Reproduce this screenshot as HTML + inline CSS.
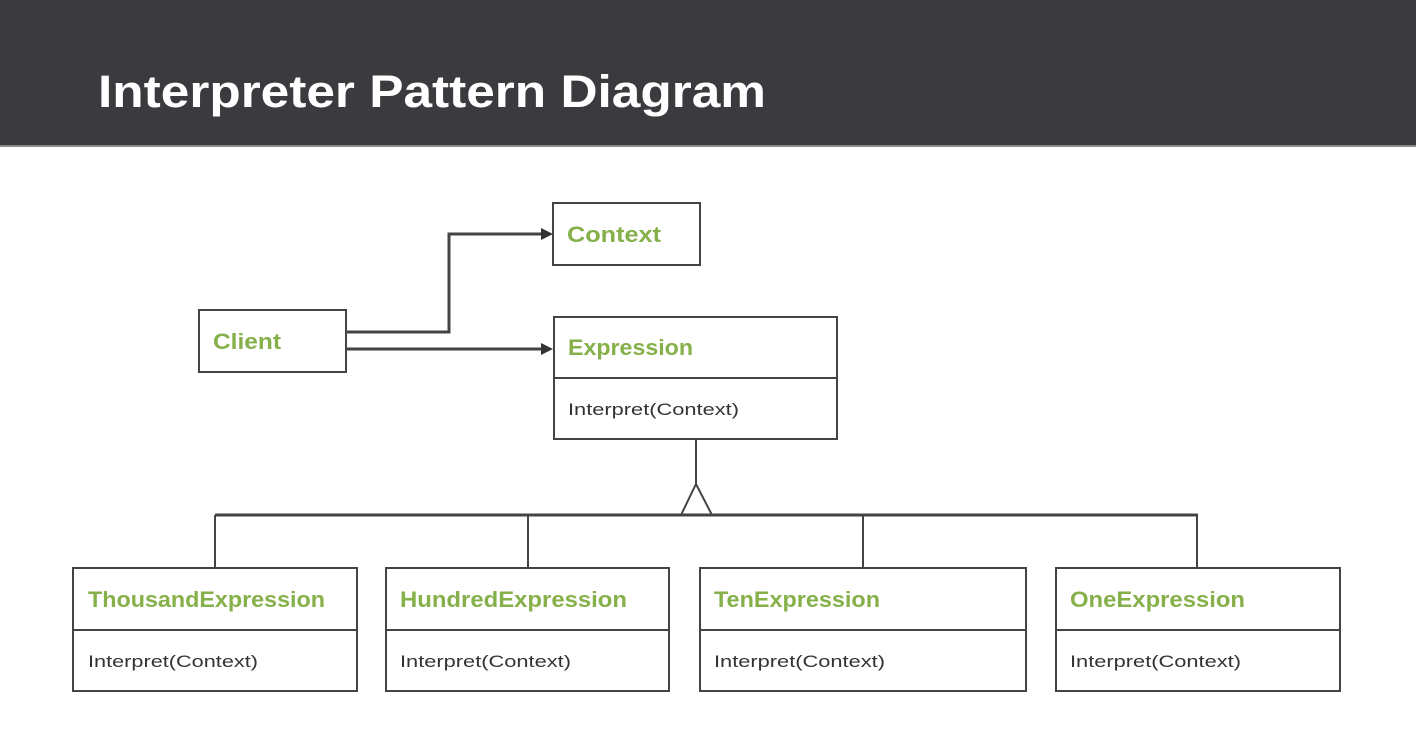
<!DOCTYPE html>
<html><head><meta charset="utf-8"><style>
html,body{margin:0;padding:0;background:#fff;width:1416px;height:744px;overflow:hidden}
</style></head><body>
<svg width="1416" height="744" xmlns="http://www.w3.org/2000/svg" font-family="Liberation Sans, sans-serif">
<rect x="0" y="0" width="1416" height="744" fill="#fff"/>
<rect x="0" y="0" width="1416" height="145" fill="#3b3b3f"/>
<rect x="0" y="145" width="1416" height="2" fill="#8a8a8a"/>
<text x="98" y="107" font-size="45" font-weight="bold" fill="#fff" textLength="668" lengthAdjust="spacingAndGlyphs">Interpreter Pattern Diagram</text>
<g stroke="#444" stroke-width="2" fill="#fff">
<rect x="553" y="203" width="147" height="62"/>
<rect x="199" y="310" width="147" height="62"/>
<rect x="554" y="317" width="283" height="122"/>
<line x1="554" y1="378" x2="837" y2="378"/>
<rect x="73" y="568" width="284" height="123"/><line x1="73" y1="630" x2="357" y2="630"/>
<rect x="386" y="568" width="283" height="123"/><line x1="386" y1="630" x2="669" y2="630"/>
<rect x="700" y="568" width="326" height="123"/><line x1="700" y1="630" x2="1026" y2="630"/>
<rect x="1056" y="568" width="284" height="123"/><line x1="1056" y1="630" x2="1340" y2="630"/>
<polyline fill="none" stroke-width="3" points="346,332 449,332 449,234 543,234"/>
<line x1="346" y1="349" x2="543" y2="349" stroke-width="3"/>
<line x1="696" y1="439" x2="696" y2="484"/>
<polyline fill="none" points="681,515 696,484 712,515"/>
<line x1="215" y1="515" x2="1198" y2="515" stroke-width="3"/>
<line x1="215" y1="515" x2="215" y2="568"/>
<line x1="528" y1="515" x2="528" y2="568"/>
<line x1="863" y1="515" x2="863" y2="568"/>
<line x1="1197" y1="515" x2="1197" y2="568"/>
</g>
<polygon points="541,228 553,234 541,240" fill="#333"/>
<polygon points="541,343 553,349 541,355" fill="#333"/>
<g fill="#86b04a" font-weight="bold" font-size="22">
<text x="567" y="242" textLength="94" lengthAdjust="spacingAndGlyphs">Context</text>
<text x="213" y="349" textLength="68" lengthAdjust="spacingAndGlyphs">Client</text>
<text x="568" y="355" textLength="125" lengthAdjust="spacingAndGlyphs">Expression</text>
<text x="88" y="607" textLength="237" lengthAdjust="spacingAndGlyphs">ThousandExpression</text>
<text x="400" y="607" textLength="227" lengthAdjust="spacingAndGlyphs">HundredExpression</text>
<text x="714" y="607" textLength="166" lengthAdjust="spacingAndGlyphs">TenExpression</text>
<text x="1070" y="607" textLength="175" lengthAdjust="spacingAndGlyphs">OneExpression</text>
</g>
<g fill="#333" font-size="17">
<text x="568" y="415" textLength="171" lengthAdjust="spacingAndGlyphs">Interpret(Context)</text>
<text x="88" y="667" textLength="170" lengthAdjust="spacingAndGlyphs">Interpret(Context)</text>
<text x="400" y="667" textLength="171" lengthAdjust="spacingAndGlyphs">Interpret(Context)</text>
<text x="714" y="667" textLength="171" lengthAdjust="spacingAndGlyphs">Interpret(Context)</text>
<text x="1070" y="667" textLength="171" lengthAdjust="spacingAndGlyphs">Interpret(Context)</text>
</g>
</svg>
</body></html>
